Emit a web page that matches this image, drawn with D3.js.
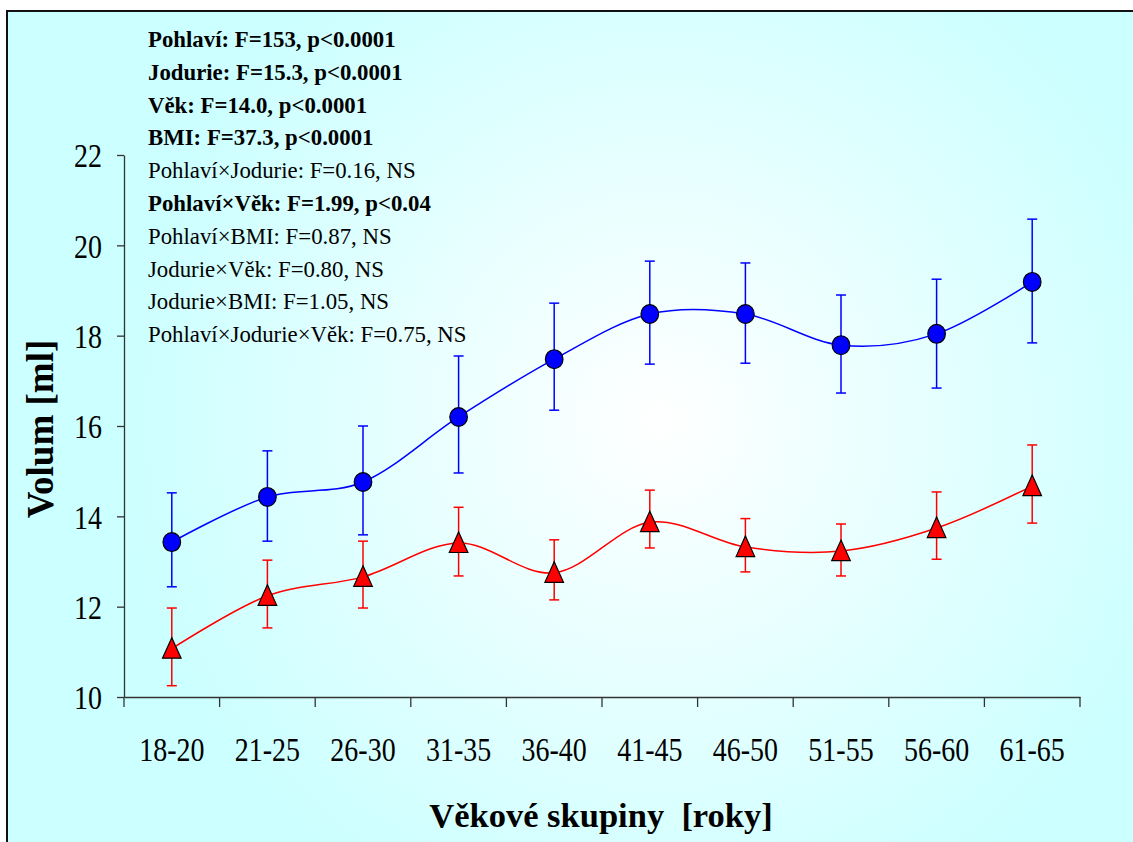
<!DOCTYPE html>
<html>
<head>
<meta charset="utf-8">
<script src="https://cdn.jsdelivr.net/npm/d3@7"></script>
<style>
  html, body { margin: 0; padding: 0; background: #ffffff; }
  svg { display: block; }
  text { font-family: "Liberation Serif", "Times New Roman", serif; fill: #000; }
</style>
</head>
<body>
<svg id="chart" width="1133" height="842"></svg>
<script>
const categories = ["18-20","21-25","26-30","31-35","36-40","41-45","46-50","51-55","56-60","61-65"];
const blueMean  = [13.43,14.43,14.76,16.20,17.48,18.48,18.48,17.79,18.04,19.19];
const blueUpper = [14.52,15.45,16.00,17.55,18.72,19.65,19.61,18.90,19.25,20.58];
const blueLower = [12.44,13.45,13.59,14.96,16.35,17.37,17.39,16.73,16.84,17.84];
const redMean   = [11.07,12.24,12.66,13.41,12.75,13.87,13.32,13.23,13.74,14.67];
const redUpper  = [11.97,13.03,13.45,14.20,13.48,14.58,13.95,13.83,14.54,15.58];
const redLower  = [10.25,11.53,11.97,12.68,12.15,13.30,12.77,12.68,13.05,13.85];
const yTicks = [10,12,14,16,18,20,22];
const annotations = [
  {t:"Pohlaví: F=153, p<0.0001", b:true},
  {t:"Jodurie: F=15.3, p<0.0001", b:true},
  {t:"Věk: F=14.0, p<0.0001", b:true},
  {t:"BMI: F=37.3, p<0.0001", b:true},
  {t:"Pohlaví×Jodurie: F=0.16, NS", b:false},
  {t:"Pohlaví×Věk: F=1.99, p<0.04", b:true},
  {t:"Pohlaví×BMI: F=0.87, NS", b:false},
  {t:"Jodurie×Věk: F=0.80, NS", b:false},
  {t:"Jodurie×BMI: F=1.05, NS", b:false},
  {t:"Pohlaví×Jodurie×Věk: F=0.75, NS", b:false}
];
const xTitle = "Věkové skupiny  [roky]";
const yTitle = "Volum [ml]";

const svg = d3.select("#chart");
const W = 1133, H = 842;

// background gradient
const defs = svg.append("defs");
const grad = defs.append("radialGradient").attr("id","bg")
  .attr("gradientUnits","userSpaceOnUse")
  .attr("cx",660).attr("cy",420).attr("r",540);
grad.append("stop").attr("offset","0").attr("stop-color","#ffffff");
grad.append("stop").attr("offset","1").attr("stop-color","#ccffff");

svg.append("rect").attr("x",8).attr("y",12).attr("width",W-8).attr("height",H-12).attr("fill","url(#bg)");
svg.append("path").attr("d",`M7,${H} L7,11 L${W},11`).attr("fill","none").attr("stroke","#111").attr("stroke-width",2);

const x = d3.scaleBand().domain(categories).range([124,1080]);
const cx = c => x(c) + x.bandwidth()/2;
const y = d3.scaleLinear().domain([10,22]).range([697,155]);
const stretch = 1.18;

// y axis
const yAxis = svg.append("g").attr("transform","translate(124,0)")
  .call(d3.axisLeft(y).tickValues(yTicks).tickSize(7).tickSizeOuter(0).tickPadding(15).tickFormat(d3.format("d")));
yAxis.selectAll("path,line").attr("stroke","#333").attr("stroke-width",1.3);
yAxis.selectAll("text").attr("font-size",28).attr("dy",10)
  .attr("transform",`scale(1,${stretch})`);

// x axis
const xAxis = svg.append("g").attr("transform","translate(0,697)")
  .call(d3.axisBottom(x).tickSize(0).tickSizeOuter(0));
xAxis.select(".domain").attr("stroke","#333").attr("stroke-width",1.3);
xAxis.selectAll("text").attr("y",64/stretch).attr("dy",0).attr("font-size",28)
  .attr("transform",`scale(1,${stretch})`);
const bounds = categories.map(c => x(c)).concat([x.range()[1]]);
svg.append("g").selectAll("line").data(bounds).join("line")
  .attr("x1",d=>d).attr("x2",d=>d).attr("y1",697).attr("y2",707)
  .attr("stroke","#333").attr("stroke-width",1.3);

// series
const line = d3.line().x(d=>cx(d.c)).y(d=>y(d.v)).curve(d3.curveCardinal.tension(0));
function series(mean, up, lo, color) {
  const data = categories.map((c,i)=>({c, v:mean[i], u:up[i], l:lo[i]}));
  const g = svg.append("g");
  g.selectAll("line.eb").data(data).join("line").attr("class","eb")
    .attr("x1",d=>cx(d.c)).attr("x2",d=>cx(d.c)).attr("y1",d=>y(d.u)).attr("y2",d=>y(d.l))
    .attr("stroke",color).attr("stroke-width",1.5);
  ["u","l"].forEach(k=>{
    g.selectAll("line.cap"+k).data(data).join("line").attr("class","cap"+k)
      .attr("x1",d=>cx(d.c)-5).attr("x2",d=>cx(d.c)+5).attr("y1",d=>y(d[k])).attr("y2",d=>y(d[k]))
      .attr("stroke",color).attr("stroke-width",1.5);
  });
  g.append("path").datum(data).attr("d",line).attr("fill","none").attr("stroke",color).attr("stroke-width",1.5);
  return {g, data};
}
const b = series(blueMean, blueUpper, blueLower, "#0000ff");
b.g.selectAll("ellipse").data(b.data).join("ellipse")
  .attr("cx",d=>cx(d.c)).attr("cy",d=>y(d.v)).attr("rx",8.8).attr("ry",9.4)
  .attr("fill","#0000ff").attr("stroke","#000").attr("stroke-width",1.2);
const r = series(redMean, redUpper, redLower, "#ff0000");
r.g.selectAll("path.tri").data(r.data).join("path").attr("class","tri")
  .attr("d",d=>{const px=cx(d.c), py=y(d.v); return `M${px},${py-11} L${px+9.3},${py+9.5} L${px-9.3},${py+9.5} Z`;})
  .attr("fill","#ff0000").attr("stroke","#000").attr("stroke-width",1.2).attr("stroke-linejoin","miter");

// annotations
svg.append("g").selectAll("text").data(annotations).join("text")
  .attr("x",148).attr("y",(d,i)=>47+i*32.8)
  .attr("font-size",22.8).attr("font-weight",d=>d.b?"bold":"normal")
  .text(d=>d.t);

// axis titles
svg.append("text").attr("x",601).attr("y",827).attr("text-anchor","middle")
  .attr("font-size",34.5).attr("font-weight","bold").style("white-space","pre").text(xTitle);
svg.append("text").attr("transform","translate(53,429) rotate(-90)").attr("text-anchor","middle")
  .attr("font-size",37).attr("font-weight","bold").text(yTitle);
</script>
</body>
</html>
